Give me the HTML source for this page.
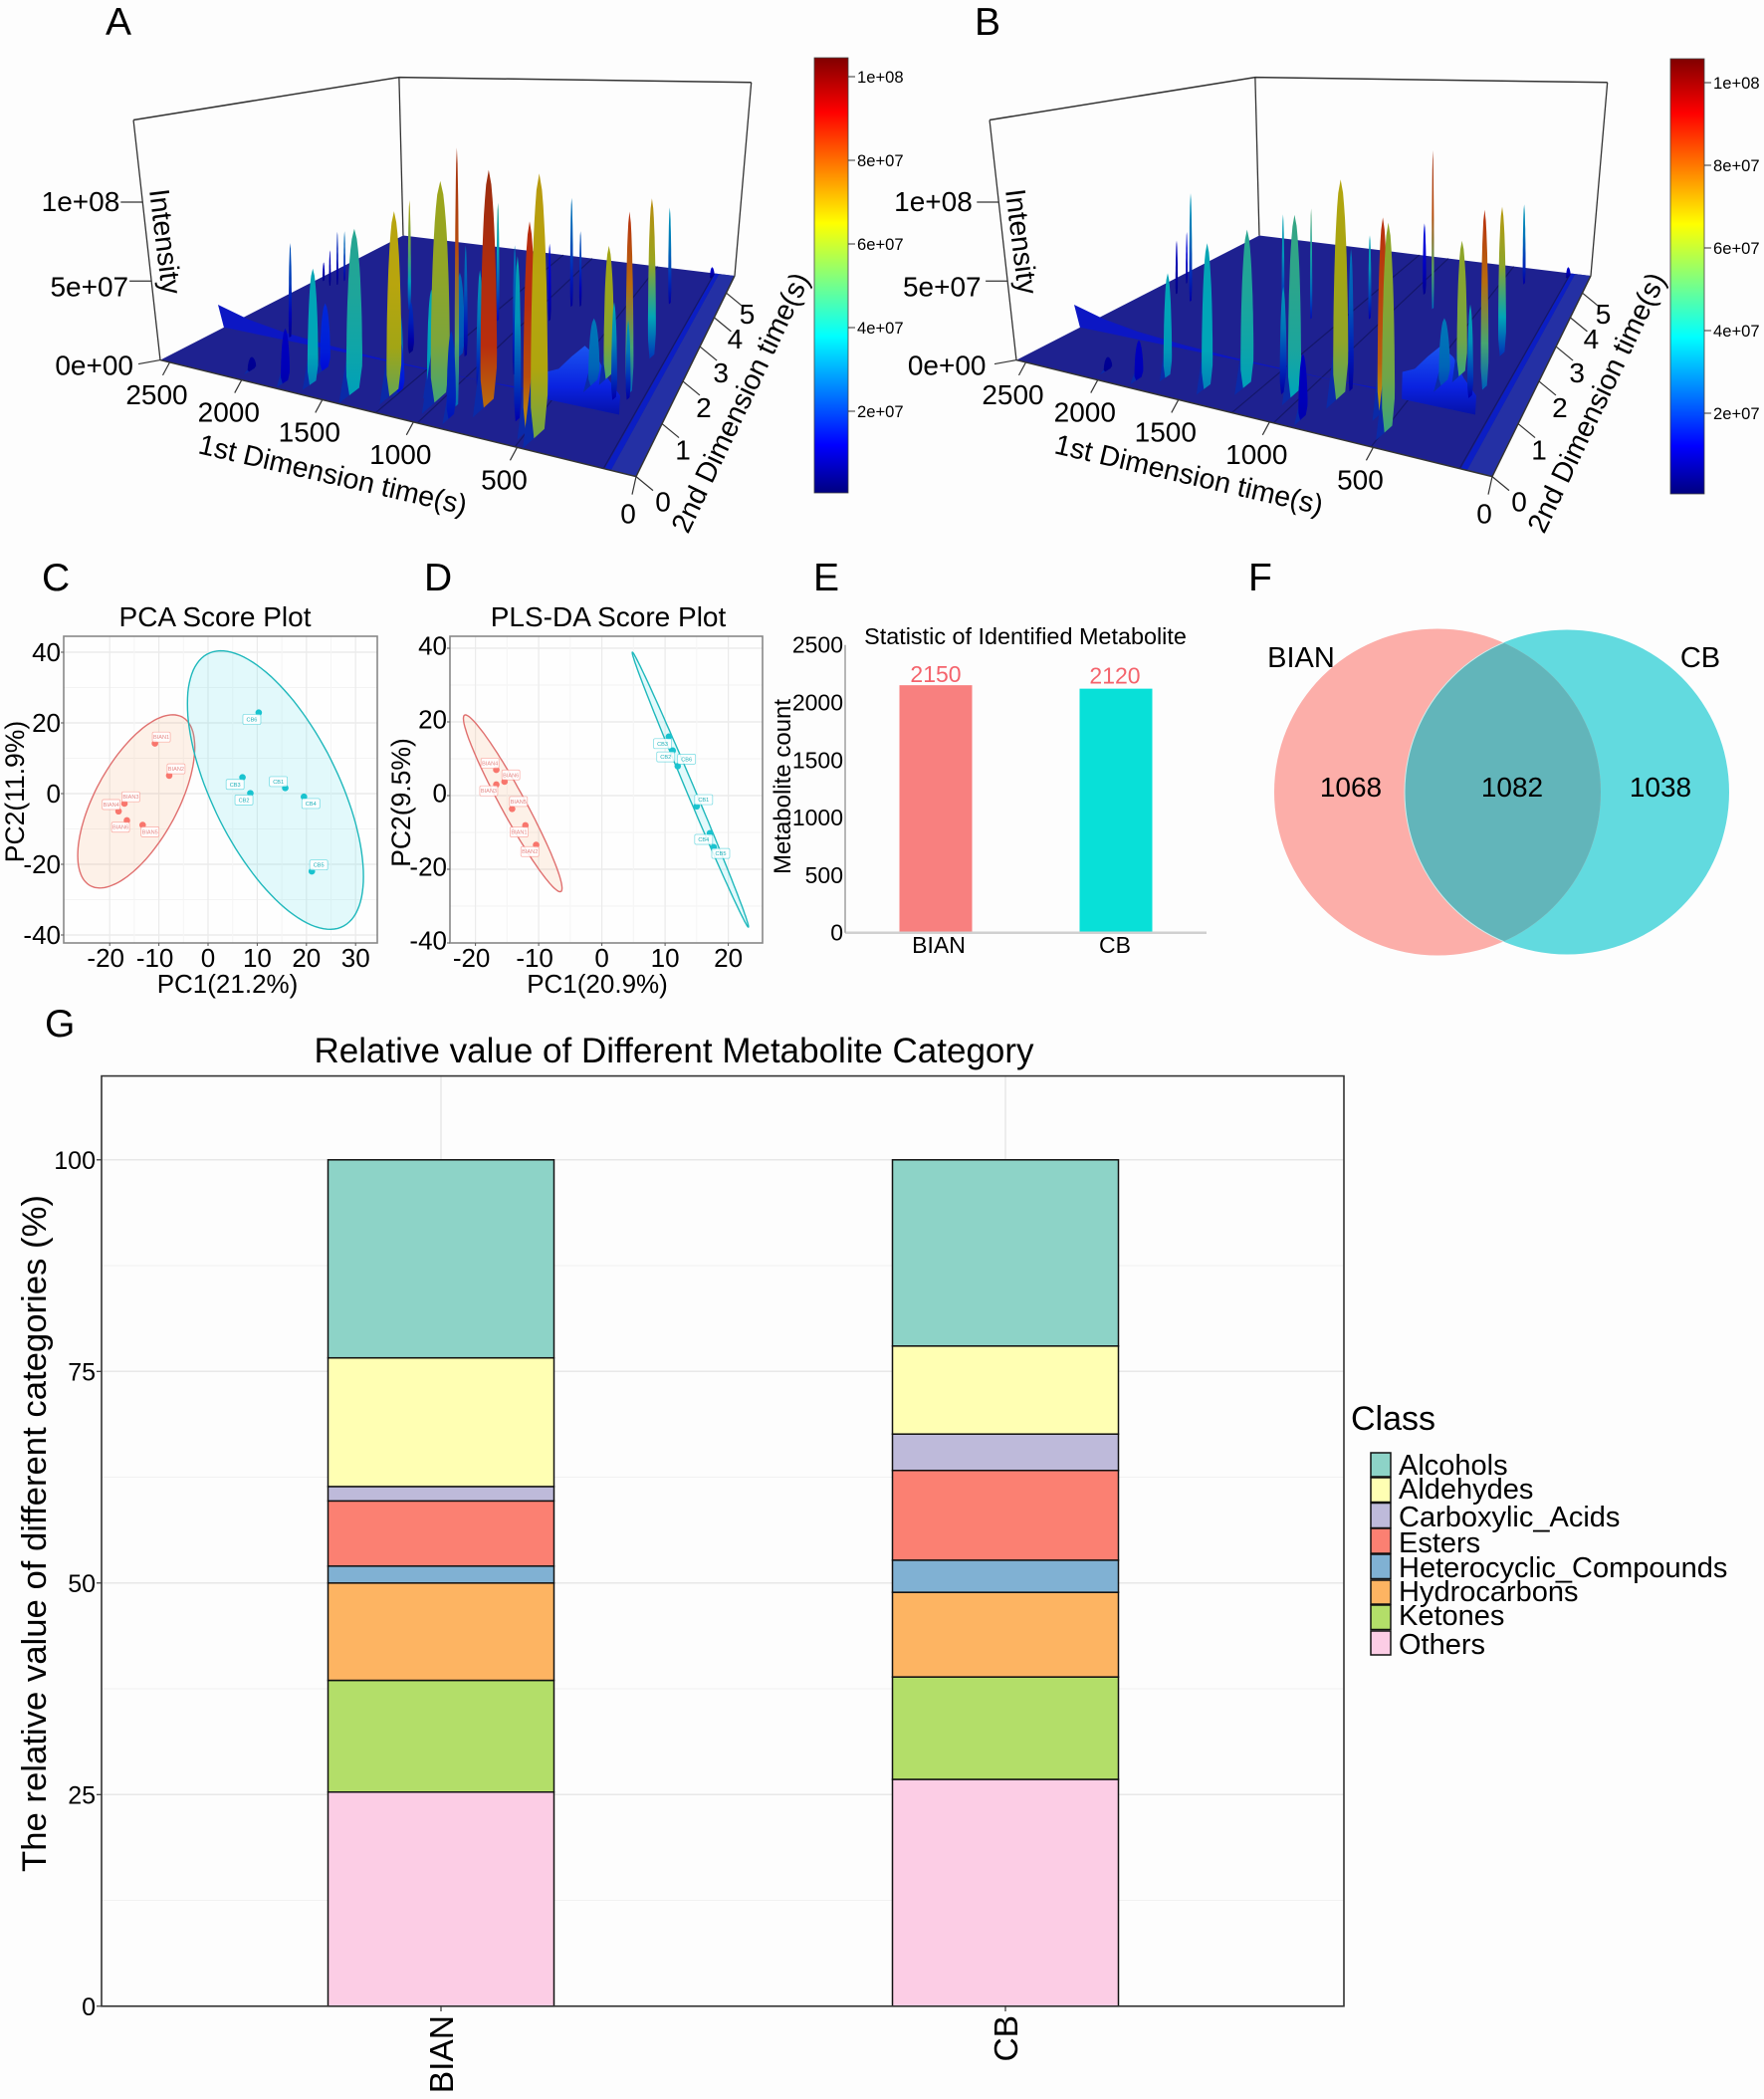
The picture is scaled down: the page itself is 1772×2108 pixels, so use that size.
<!DOCTYPE html>
<html lang="en">
<head>
<meta charset="utf-8">
<title>Metabolite figure</title>
<style>
html,body{margin:0;padding:0;background:#fdfdfd;}
svg{display:block;font-family:"Liberation Sans",sans-serif;}
</style>
</head>
<body>
<svg id="fig" xmlns="http://www.w3.org/2000/svg" width="1772" height="2108" viewBox="0 0 1772 2108">
<defs>
<linearGradient id="jetbar" x1="0" y1="1" x2="0" y2="0">
<stop offset="0" stop-color="#000080"/><stop offset="0.11" stop-color="#0000ff"/><stop offset="0.36" stop-color="#00ffff"/><stop offset="0.62" stop-color="#ffff00"/><stop offset="0.875" stop-color="#ff0000"/><stop offset="1" stop-color="#800000"/>
</linearGradient>
<linearGradient id="plateauFill" x1="0" y1="0" x2="0" y2="1">
<stop offset="0" stop-color="#1a55f0"/><stop offset="0.6" stop-color="#0a22e0"/><stop offset="1" stop-color="#0612a8"/>
</linearGradient>
<clipPath id="vennClip"><circle cx="1444" cy="795.5" r="164"/></clipPath>
</defs>
<rect x="0" y="0" width="1772" height="2108" fill="#fdfdfd"/>
<g font-size="39" fill="#000">
<text x="106" y="35">A</text>
<text x="979" y="35">B</text>
<text x="42" y="593">C</text>
<text x="426" y="593">D</text>
<text x="817" y="593">E</text>
<text x="1254" y="593">F</text>
<text x="45" y="1041">G</text>
</g>
<g id="surfaceA"></g>
<g id="surfaceB"></g>
<g id="scatterC"></g>
<g id="scatterD"></g>
<g id="barE"></g>
<g>
<circle cx="1574" cy="795.5" r="163" fill="#62dadf"/>
<circle cx="1444" cy="795.5" r="164" fill="#fcaea9"/>
<circle cx="1574" cy="795.5" r="163" fill="#62b5ba" stroke="#cfecec" stroke-width="1" clip-path="url(#vennClip)"/>
<text x="1307" y="670" font-size="29" text-anchor="middle">BIAN</text>
<text x="1708" y="670" font-size="29" text-anchor="middle">CB</text>
<text x="1357" y="800" font-size="28" text-anchor="middle">1068</text>
<text x="1519" y="800" font-size="28" text-anchor="middle">1082</text>
<text x="1668" y="800" font-size="28" text-anchor="middle">1038</text>
</g>
<g id="stackG"></g>
<g font-size="29" fill="#000">
<text x="1357" y="1436" font-size="34">Class</text>
<g stroke="#111" stroke-width="1.5">
<rect x="1377" y="1459" width="20" height="24" fill="#8dd3c7"/>
<rect x="1377" y="1484" width="20" height="24.5" fill="#ffffb3"/>
<rect x="1377" y="1509.5" width="20" height="25" fill="#bebada"/>
<rect x="1377" y="1535" width="20" height="25" fill="#fb8072"/>
<rect x="1377" y="1561" width="20" height="24.5" fill="#80b1d3"/>
<rect x="1377" y="1587" width="20" height="24" fill="#fdb462"/>
<rect x="1377" y="1612" width="20" height="24.5" fill="#b3de69"/>
<rect x="1377" y="1638" width="20" height="24" fill="#fccde5"/>
</g>
<text x="1405" y="1481">Alcohols</text>
<text x="1405" y="1505">Aldehydes</text>
<text x="1405" y="1533">Carboxylic_Acids</text>
<text x="1405" y="1559">Esters</text>
<text x="1405" y="1584">Heterocyclic_Compounds</text>
<text x="1405" y="1608">Hydrocarbons</text>
<text x="1405" y="1632">Ketones</text>
<text x="1405" y="1661">Others</text>
</g>
</svg>
<script>
/* ---------- Panel A / B : peak data (t1 s, t2 s, z in 1e7, colour value in 1e7, half width in s) ---------- */
var aPeakT1=[2117,1649,1783,1407,2380,2380,2416,2513,1225,1704,998,892,766,1133,509,456,812,763,339,202,201,281,1092,774,856,252,193,1205,869,838,586,385,2030,130,1381,1120,861,1066,1321,1686];
var aPeakT2=[1.21,0.28,0.17,0.30,3.10,3.29,3.02,3.16,0.46,2.66,0.57,0.49,0.67,2.78,0.37,0.32,3.65,3.70,1.79,1.50,2.49,4.28,1.62,1.42,3.05,1.31,1.37,0.52,0.26,0.80,0.48,1.57,0.25,5.6,1.44,1.59,1.11,0.65,0.92,0.63];
var aPeakZ=[6.3,6.7,3.15,9.3,4.2,4.0,2.8,1.5,10.3,7.9,12.1,14.1,12.8,8.15,10.65,13.2,7.8,5.4,7.6,10.1,9.7,6.9,6.9,7.6,5.3,5.3,4.3,2.8,4.55,7,8.6,3.7,0.8,0.8,3.2,5.2,6.35,5.8,3.9,4];
var aPeakTone=[2.5,4.0,1,4.5,2,3,1,1,6.8,6.5,6.2,9.5,9.6,4.5,8.8,7,3,2.5,6.3,9,7.2,3.5,3,3,1.5,3.8,3.5,1.8,2,3.5,4,3,0.5,1.2,2,2.8,4,3.8,3,1.8];
var aPeakWidth=[12,35,30,50,8,8,8,10,45,12,55,12,45,10,32,42,10,8,28,20,22,10,12,12,10,15,12,25,25,20,18,30,30,15,20,30,30,25,30,35];

var bPeakT1=[2215,1700,1817,2380,2439,1450,1280,1022,1532,1378,814,576,497,1059,772,900,361,220,236,368,882,1079,794,411,257,2030,130];
var bPeakT2=[2.50,0.41,0.22,2.67,3.11,0.38,0.60,0.63,2.46,2.61,0.80,0.67,0.37,2.92,3.60,4.09,1.84,1.61,2.53,5.07,0.22,0.61,0.97,1.55,1.35,0.25,5.6];
var bPeakZ=[8.1,6.15,2.3,4.1,4.1,8.3,9,10.1,7.3,7.7,12.1,10.4,10.6,5.8,11.3,5.3,7.8,10.05,9.1,6.1,3.4,6,8,3.7,5.1,0.8,0.8];
var bPeakTone=[3.5,3.8,1,1,1.5,4,4.5,4.7,4,5,6.5,8.5,6,4,9.5,1.5,6,9,7,3.5,1,3.5,3,3,4,0.5,1.2];
var bPeakWidth=[12,28,30,10,8,35,40,38,10,8,42,28,32,10,8,12,28,20,22,10,25,20,15,30,15,30,15];

var t1Ticks=[2500,2000,1500,1000,500,0];
var t2Ticks=[0,1,2,3,4,5];
var zTicks=[0,5,10];
var zTickLabels=['0e+00','5e+07','1e+08'];
var cbTicks=[2,4,6,8,10];
var cbTickLabels=['2e+07','4e+07','6e+07','8e+07','1e+08'];
var ridgeT1=[2570,2350,2100,1800,1500,1200,900,600];
var ridgeZ=[1.7,1.1,0.7,0.45,0.3,0.25,0.2,0.3];
var plateauT1=[540,480,420,360,300,250,190];
var plateauZ=[1.5,1.8,2.6,3.3,2.8,1.8,1.0];
var seamT1=[1200,980,510,130];

/* ---------- Panel C ---------- */
var cX=[-10.8,-7.9,-17,-18.2,-16.5,-13.3,10.3,7,15.7,8.6,19.5,21.1];
var cY=[14.2,5.1,-2.8,-5,-7.6,-8.9,22.9,4.6,1.6,0.1,-0.9,-22];
var cLabX=[-9.5,-6.5,-15.7,-19.7,-17.8,-11.8,8.9,5.5,14.3,7.3,20.9,22.5];
var cLabY=[16,7,-0.9,-3.1,-9.5,-10.8,21,2.6,3.4,-1.8,-2.8,-20.2];
var cNames=['BIAN1','BIAN2','BIAN3','BIAN4','BIAN6','BIAN5','CB6','CB3','CB1','CB2','CB4','CB5'];
var cEllipseRed=[-14.6,-2.2,11.9,24.5,0.625];
var cEllipseTeal=[13.7,1.0,17.9,39.4,-0.62];
var cXTicks=[-20,-10,0,10,20,30];
var cYTicks=[-40,-20,0,20,40];

/* ---------- Panel D ---------- */
var dX=[-16.7,-15.4,-16.7,-14.2,-12.1,-10.4,10.6,11.2,12,15,17.1,17.7];
var dY=[7,3.8,3,-3.6,-8.1,-13.4,16,12.2,8,-2.9,-10.2,-14];
var dLabX=[-17.7,-14.4,-17.9,-13.2,-13.1,-11.4,9.6,10.1,13.4,16.1,16.1,18.8];
var dLabY=[8.8,5.6,1.3,-1.6,-9.9,-15.2,14.1,10.5,9.9,-1.1,-11.9,-15.7];
var dNames=['BIAN4','BIAN6','BIAN3','BIAN5','BIAN1','BIAN2','CB3','CB2','CB6','CB1','CB4','CB5'];
var dEllipseRed=[-14.1,-2.1,7.8,24,-0.96];
var dEllipseTeal=[14,1.6,9.2,37.3,-0.997];
var dXTicks=[-20,-10,0,10,20];
var dYTicks=[-40,-20,0,20,40];

/* ---------- Panel E ---------- */
var eCategories=['BIAN','CB'];
var eCounts=[2150,2120];
var eTicks=[0,500,1000,1500,2000,2500];

/* ---------- Panel G ---------- */
var gCategories=['BIAN','CB'];
var gClasses=['Others','Ketones','Hydrocarbons','Heterocyclic_Compounds','Esters','Carboxylic_Acids','Aldehydes','Alcohols'];
var gBian=[25.3,13.2,11.5,2,7.7,1.7,15.2,23.4];
var gCb=[26.8,12.1,10,3.8,10.6,4.3,10.4,22];
var gColors=['#fccde5','#b3de69','#fdb462','#80b1d3','#fb8072','#bebada','#ffffb3','#8dd3c7'];
var gTicks=[0,25,50,75,100];

var NS='http://www.w3.org/2000/svg';
var defs=document.querySelector('#fig defs');
var gradId=0;
function mk(tag,parent,attrs){
  var e=document.createElementNS(NS,tag);
  for(var k in attrs){e.setAttribute(k,attrs[k]);}
  parent.appendChild(e);
  return e;
}
function T(parent,x,y,str,size,anchor,rot,fill){
  var e=mk('text',parent,{transform:'translate('+x+','+y+')'+(rot?' rotate('+rot+')':''),'font-size':size,'text-anchor':anchor||'start',fill:fill||'#000'});
  e.textContent=str;
  return e;
}
function line(parent,x1,y1,x2,y2,stroke,sw){
  return mk('line',parent,{x1:x1,y1:y1,x2:x2,y2:y2,stroke:stroke,'stroke-width':sw});
}
function clamp01(v){return Math.max(0,Math.min(1,v));}
function jet(v,dim){
  var t=clamp01(v/10.5);
  var r=clamp01(1.5-Math.abs(4*t-3)),g=clamp01(1.5-Math.abs(4*t-2)),b=clamp01(1.5-Math.abs(4*t-1));
  var R=r*255*dim,G=g*255*dim,B=b*255*dim;
  G=Math.min(G,165);
  if(R>100){G=Math.max(G,45);B=Math.max(B,14);}
  return 'rgb('+Math.round(R)+','+Math.round(G)+','+Math.round(B)+')';
}
/* 3D axis function : data (t1,t2,z) to screen */
function project(t1,t2,z){
  var s=t1/2570,r=t2/5.8,w=1+0.3809*s+0.7145*r;
  var x=(-416.7*s+626.3*r+639)/w,y=(20.7*s-3.73*r+478.6)/w;
  if(z){
    var dy=21.9*z/w;
    x=x+(x-483)*dy/(3244-y);
    y=y-dy;
  }
  return {x:x,y:y,w:w};
}
function pts(list){
  return list.map(function(p){return p.x.toFixed(1)+','+p.y.toFixed(1);}).join(' ');
}
function drawSurface(root,dx,zLabDx,t1s,t2s,zs,tones,widths,cbX,cbTop,cbBottom,cbY10,cbPer){
  var g=mk('g',root,{transform:'translate('+dx+',0)'});
  var e;
  /* box */
  var top=15.2,tMax=2570,rMax=5.8;
  var boxPts=[project(tMax,0,top),project(tMax,rMax,top),project(0,rMax,top)];
  e=mk('polyline',g,{points:pts(boxPts),fill:'none',stroke:'#333','stroke-width':1.5});
  
  
  e=line(g,project(tMax,0,0).x,project(tMax,0,0).y,boxPts[0].x,boxPts[0].y,'#333',1.3);
  
  
  e=line(g,project(tMax,rMax,0).x,project(tMax,rMax,0).y,boxPts[1].x,boxPts[1].y,'#333',1.3);
  
  
  e=line(g,project(0,rMax,0).x,project(0,rMax,0).y,boxPts[2].x,boxPts[2].y,'#333',1.3);
  
  
  /* floor */
  e=mk('polygon',g,{points:pts([project(0,0),project(tMax,0),project(tMax,rMax),project(0,rMax)]),fill:'#1e2190'});
  
  
  e=mk('polygon',g,{points:pts([project(0,0),project(100,0),project(100,rMax),project(0,rMax)]),fill:'#2430a4'});
  
  
  e=mk('polygon',g,{points:pts([project(100,0),project(125,0),project(125,rMax),project(100,rMax)]),fill:'#0b1ec4'});
  
  
  seamT1.forEach(function(t){
    var a=project(t,0),b=project(t,rMax);
    var l=line(g,a.x,a.y,b.x,b.y,'#14176a',1.2);
    
    
  });
  /* long ridge */
  var upper=[],lower=[];
  ridgeT1.forEach(function(t,i){upper.push(project(t,1.03,ridgeZ[i]));lower.unshift(project(t,1.1,0));});
  e=mk('polygon',g,{points:pts(upper.concat(lower)),fill:'#0c17c4'});
  
  
  /* plateau */
  var pu=[],pl=[];
  plateauT1.forEach(function(t,i){pu.push(project(t,1.0,plateauZ[i]));pl.unshift(project(t,1.0,0));});
  e=mk('polygon',g,{points:pts(pu.concat(pl)),fill:'url(#plateauFill)'});
  
  
  /* peaks : far to near */
  var order=t1s.map(function(_,i){return i;});
  order.sort(function(a,b){return project(t1s[b],t2s[b]).w-project(t1s[a],t2s[a]).w;});
  order.forEach(function(i){
    var p0=project(t1s[i],t2s[i],0);
    var h=21.9*zs[i]/p0.w;
    var pd=project(t1s[i],t2s[i]+0.5,0);
    var pw=project(t1s[i]+widths[i],t2s[i],0);
    var hw0=Math.abs(pw.x-p0.x)*0.95;
    var k=(pd.y-p0.y)/(pd.x-p0.x||1);
    k=Math.max(-0.9,Math.min(0,k));
    var wide=widths[i]>=25;
    if(wide){
      var sk=mk('polygon',g,{points:pts([{x:p0.x-hw0*1.9,y:p0.y-k*hw0*1.9},{x:p0.x-hw0*0.2,y:p0.y-h*0.42},{x:p0.x+hw0*0.3,y:p0.y+k*hw0*0.3}]),fill:'#0a2aa8'});
      
      
    }
    var left=[],right=[];
    for(var n=0;n<=16;n++){
      var f=n/16;
      var hw=hw0*Math.pow(1-Math.pow(f,2.4),0.6)*Math.min(1,0.6+f*3);
      var cy=p0.y-h*f;
      left.push({x:p0.x-hw,y:cy-k*hw*(1-f)});
      right.unshift({x:p0.x+hw,y:cy+k*hw*(1-f)});
    }
    var id='pk'+(gradId++);
    var lg=mk('linearGradient',defs,{id:id,gradientUnits:'userSpaceOnUse',x1:0,y1:p0.y,x2:0,y2:p0.y-h});
    var dim=tones[i]<2?0.85:0.72;
    mk('stop',lg,{offset:0,'stop-color':jet(tones[i]*(wide?0.8:0.3),dim)});
    mk('stop',lg,{offset:0.25,'stop-color':jet(tones[i]*(wide?0.92:0.55),dim)});
    mk('stop',lg,{offset:0.6,'stop-color':jet(tones[i]*(wide?0.97:0.85),dim)});
    mk('stop',lg,{offset:1,'stop-color':jet(tones[i],dim)});
    var pk=mk('polygon',g,{points:pts(left.concat(right)),fill:'url(#'+id+')'});
    
    
  });
  /* axes */
  var fa=project(tMax,0),fb=project(0,0),fc=project(0,rMax);
  e=line(g,fa.x,fa.y,fb.x,fb.y,'#333',1.5);
  
  
  e=line(g,fb.x,fb.y,fc.x,fc.y,'#333',1.5);
  
  
  t1Ticks.forEach(function(t){
    var p=project(t,0);
    var zero=(t===0);
    var l=line(g,p.x,p.y,p.x+(zero?-4:-7),p.y+(zero?18:13),'#333',1.2);
    
    
    var lab=T(g,p.x+(zero?-8:-13),p.y+(zero?47:42),String(t),28,'middle');
    
    
  });
  t2Ticks.forEach(function(t){
    var p=project(0,t);
    var zero=(t===0);
    var l=line(g,p.x,p.y,p.x+17,p.y+14,'#333',1.2);
    
    
    var lab=T(g,p.x+(zero?27:21),p.y+(zero?35:(t<=3?36:31)),String(t),28,'middle');
    
    
  });
  zTicks.forEach(function(z,i){
    var p=project(tMax,0,z);
    var l=line(g,p.x-22,p.y+(z===0?4:0),p.x,p.y,'#333',1.2);
    
    
    var lab=T(g,p.x-23+zLabDx+(z===0?-4:0),p.y+(z===10?9:15),zTickLabels[i],28,'end');
    
    
  });
  e=T(g,198,455,'1st Dimension time(s)',28.5,'start',13);
  
  
  e=T(g,691,537,'2nd Dimension time(s)',28.5,'start',-64.5);
  
  
  e=T(g,150,191,'Intensity',28.5,'start',83);
  
  
  /* colour bar */
  e=mk('rect',root,{x:cbX,y:cbTop,width:34,height:cbBottom-cbTop,fill:'url(#jetbar)',stroke:'#444','stroke-width':0.8});
  
  
  cbTicks.forEach(function(v,i){
    var y=cbY10+(10-v)*cbPer;
    var l=line(root,cbX+34,y,cbX+41,y,'#333',1);
    
    
    var lab=T(root,cbX+43,y+6,cbTickLabels[i],16.6,'start');
    
    
  });
}
drawSurface(document.getElementById('surfaceA'),0,0,aPeakT1,aPeakT2,aPeakZ,aPeakTone,aPeakWidth,818,58,495,77,42);
drawSurface(document.getElementById('surfaceB'),860,-3.5,bPeakT1,bPeakT2,bPeakZ,bPeakTone,bPeakWidth,1678,59,496,83,41.5);

function drawScatter(root,opt,xs,ys,lx,ly,names,eRed,eTeal,xTicks,yTicks){
  var X=function(v){return opt.x0+opt.kx*v;};
  var Y=function(v){return opt.y0-opt.ky*v;};
  var e;
  e=mk('rect',root,{x:opt.l,y:opt.t,width:opt.r-opt.l,height:opt.b-opt.t,fill:'#fefefe'});
  
  
  yTicks.forEach(function(v,i){
    var l=line(root,opt.l,Y(v),opt.r,Y(v),'#ebebeb',1.6);
    
    
    if(i<yTicks.length-1){
      var m=line(root,opt.l,Y(v+10),opt.r,Y(v+10),'#f3f3f3',1);
      
      
    }
  });
  xTicks.forEach(function(v,i){
    var l=line(root,X(v),opt.t,X(v),opt.b,'#ebebeb',1.2);
    
    
    if(i<xTicks.length-1){
      var m=line(root,X(v+5),opt.t,X(v+5),opt.b,'#f5f5f5',1);
      
      
    }
  });
  function ellipse(p,fill,stroke,fo,name){
    var list=[],phi=Math.acos(p[4]);
    for(var n=0;n<120;n++){
      var a=n/120*Math.PI*2;
      list.push({x:X(p[0]+p[2]*Math.cos(a)),y:Y(p[1]+p[3]*Math.cos(a-phi))});
    }
    var el=mk('polygon',root,{points:pts(list),fill:fill,'fill-opacity':fo,stroke:stroke,'stroke-width':1.4});
    
    
  }
  ellipse(eRed,'#f8a060','#e0706f',0.14,'bian-ellipse');
  ellipse(eTeal,'#40dcee','#1fb8bc',0.15,'cb-ellipse');
  e=mk('rect',root,{x:opt.l,y:opt.t,width:opt.r-opt.l,height:opt.b-opt.t,fill:'none',stroke:'#888','stroke-width':1.6});
  
  
  xs.forEach(function(v,i){
    var isRed=names[i].charAt(0)==='B';
    var col=isRed?'#f8766d':'#19c3cf';
    var txt=isRed?'#e58a88':'#1fb0b8';
    var c=mk('circle',root,{cx:X(v),cy:Y(ys[i]),r:3.3,fill:col});
    
    
    var r=mk('rect',root,{x:X(lx[i])-9,y:Y(ly[i])-5,width:18,height:10,rx:1.5,fill:'#ffffff','fill-opacity':0.85,stroke:col,'stroke-opacity':0.6,'stroke-width':0.7});
    
    
    var t=T(root,X(lx[i]),Y(ly[i])+2,names[i],5.6,'middle',0,txt);
    
    
  });
  xTicks.forEach(function(v){
    var l=line(root,X(v),opt.b,X(v),opt.b+3,'#555',1);
    
    
    var lab=T(root,X(v)+(v<0?-4:0),opt.b+24,String(v),26,'middle');
    
    
  });
  yTicks.forEach(function(v){
    var l=line(root,opt.l-3,Y(v),opt.l,Y(v),'#555',1);
    
    
    var lab=T(root,opt.l-3,Y(v)+opt.yLabDy,String(v),26,'end');
    
    
  });
  e=T(root,opt.titleX,629,opt.title,28,'middle');
  
  
  e=T(root,opt.xTitleX,997,opt.xTitle,26,'middle');
  
  
  e=T(root,opt.yTitleX,opt.yTitleY,opt.yTitle,26.5,'middle',-90);
  
  
}
drawScatter(document.getElementById('scatterC'),{l:64,r:379,t:639,b:947,x0:209,kx:4.94,y0:797,ky:3.55,yLabDy:9,title:'PCA Score Plot',titleX:216,xTitle:'PC1(21.2%)',xTitleX:228.5,yTitle:'PC2(11.9%)',yTitleX:24,yTitleY:795},cX,cY,cLabX,cLabY,cNames,cEllipseRed,cEllipseTeal,cXTicks,cYTicks);
drawScatter(document.getElementById('scatterD'),{l:452,r:766,t:639,b:947,x0:604.6,kx:6.35,y0:799,ky:3.7,yLabDy:6.5,title:'PLS-DA Score Plot',titleX:611,xTitle:'PC1(20.9%)',xTitleX:600,yTitle:'PC2(9.5%)',yTitleX:412,yTitleY:806},dX,dY,dLabX,dLabY,dNames,dEllipseRed,dEllipseTeal,dXTicks,dYTicks);

/* Panel E */
(function(){
  var root=document.getElementById('barE');
  var yE=function(v){return 936.7-0.1156*v;};
  var xE=function(i){return 940+181*i;};
  var eColors=['#f8807f','#08e0d8'];
  var e;
  eCategories.forEach(function(c,i){
    var r=mk('rect',root,{x:xE(i)-36.5,y:yE(eCounts[i]),width:73,height:yE(0)-yE(eCounts[i]),fill:eColors[i]});
    
    
    var v=T(root,xE(i)-(i?1:0),yE(eCounts[i])-3-(i?2:0),String(eCounts[i]),23,'middle',0,'#f4636c');
    
    
    var l=T(root,xE(i)+(i===0?3:-1),957,c,23,'middle');
    
    
  });
  e=line(root,849,yE(0),1212,yE(0),'#d0d0d0',2.5);
  
  
  e=line(root,849,yE(2500),849,yE(0),'#a0a0a0',1.5);
  
  
  eTicks.forEach(function(v){
    var l=T(root,847,yE(v)+8,String(v),23,'end');
    
    
  });
  e=T(root,794,790,'Metabolite count',24,'middle',-90);
  
  
  e=T(root,1030,647,'Statistic of Identified Metabolite',23.4,'middle');
  
  
})();

/* Panel G */
(function(){
  var root=document.getElementById('stackG');
  var yG=function(v){return 2014.8-8.5*v;};
  var xG=function(i){return 443+567*i;};
  var e;
  e=mk('rect',root,{x:102,y:1080.6,width:1248,height:934.2,fill:'#fdfdfd'});
  
  
  gTicks.forEach(function(v){
    var l=line(root,102,yG(v),1350,yG(v),'#e8e8e8',1.5);
    
    
    if(v<100){
      var m=line(root,102,yG(v+12.5),1350,yG(v+12.5),'#f1f1f1',1);
      
      
    }
    var t=line(root,97,yG(v),102,yG(v),'#333',1.2);
    
    
    var lab=T(root,96,yG(v)+9,String(v),25,'end');
    
    
  });
  var gSeries=[gBian,gCb];
  gCategories.forEach(function(c,i){
    var v=line(root,xG(i),1080.6,xG(i),2014.8,'#e8e8e8',1.5);
    
    
    var base=0;
    gSeries[i].forEach(function(val,j){
      var r=mk('rect',root,{x:xG(i)-113.5,y:yG(base+val),width:227,height:yG(base)-yG(base+val),fill:gColors[j],stroke:'#111','stroke-width':1.5});
      
      
      base+=val;
    });
    var t=line(root,xG(i),2014.8,xG(i),2020,'#333',1.2);
    
    
    var lab=T(root,xG(i)+12,2024,c,33.5,'end',-90);
    
    
  });
  e=mk('rect',root,{x:102,y:1080.6,width:1248,height:934.2,fill:'none',stroke:'#333','stroke-width':1.6});
  
  
  e=T(root,46,1540,'The relative value of different categories (%)',34.7,'middle',-90);
  
  
  e=T(root,677,1067,'Relative value of Different Metabolite Category',35,'middle');
  
  
})();
</script>
</body>
</html>
